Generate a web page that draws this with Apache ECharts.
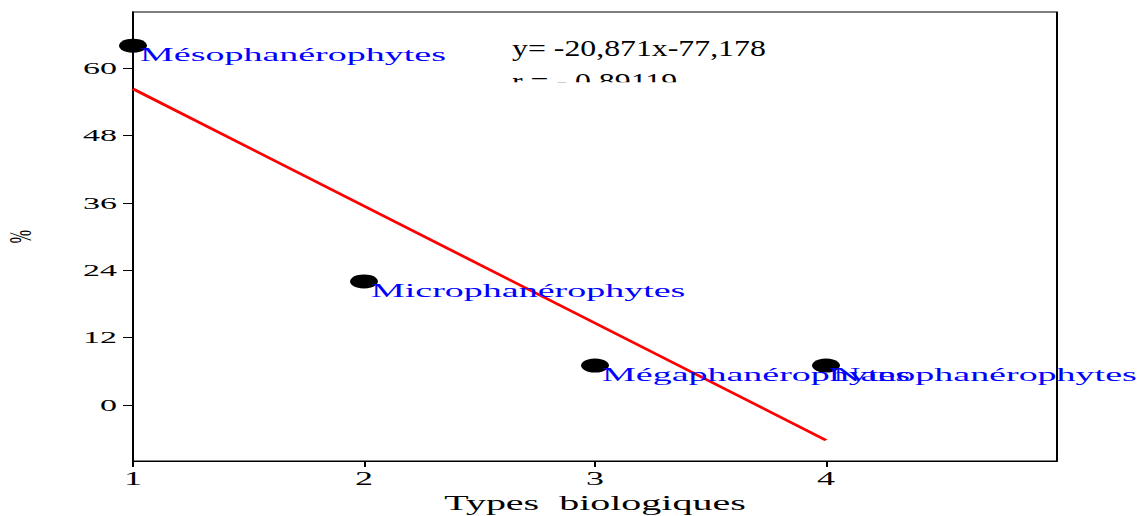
<!DOCTYPE html>
<html>
<head>
<meta charset="utf-8">
<title>Types biologiques</title>
<script src="https://cdn.jsdelivr.net/npm/echarts@6/dist/echarts.min.js"></script>
<style>
  html, body { margin: 0; padding: 0; background: #fff; overflow: hidden; }
  /* the chart is laid out at half width and stretched horizontally */
  #chart { width: 570px; height: 516px; transform: scaleX(2); transform-origin: 0 0; }
</style>
</head>
<body>
<div id="chart"></div>
<script>
// Life-form classes (x position) and their share in %
const typeNames = ['Mésophanérophytes', 'Microphanérophytes', 'Mégaphanérophytes', 'Nanophanérophytes'];
const typeX = [1, 2, 3, 4];
const percents = [64, 22, 7, 7];

// Regression line end points
const fitX = [1, 4];
const fitY = [56.3, -6.3];

// Axis ticks
const xTicks = [1, 2, 3, 4];
const yTicks = [0, 12, 24, 36, 48, 60];

const equationText = 'y= -20,871x-77,178';
const rText = 'r = - 0,89119';

const serif = '"Liberation Serif", "Times New Roman", serif';

const chart = echarts.init(document.getElementById('chart'), null, { renderer: 'svg' });

chart.setOption({
  backgroundColor: '#fff',
  animation: false,
  grid: {
    left: 66.5, right: 41.5, top: 12, bottom: 55,
    outerBoundsMode: 'none', containLabel: false,
    show: true, borderColor: '#000', borderWidth: 1, backgroundColor: 'transparent'
  },
  xAxis: {
    type: 'value', min: 1, max: 5,
    name: 'Types  biologiques', nameLocation: 'middle', nameGap: 28,
    nameTextStyle: { fontFamily: serif, fontSize: 20, color: '#000' },
    axisLine: { onZero: false, lineStyle: { color: '#000', width: 1 } },
    axisTick: { customValues: xTicks, length: 6, lineStyle: { color: '#000', width: 1 } },
    axisLabel: { customValues: xTicks, fontFamily: serif, fontSize: 18, color: '#000', margin: 9 },
    splitLine: { show: false }
  },
  yAxis: {
    type: 'value', min: -10, max: 70,
    name: '%', nameLocation: 'middle', nameRotate: 90, nameGap: 48.5,
    nameTextStyle: { fontFamily: serif, fontSize: 16, color: '#000' },
    axisLine: { onZero: false, lineStyle: { color: '#000', width: 1 } },
    axisTick: { customValues: yTicks, length: 5, lineStyle: { color: '#000', width: 1 } },
    axisLabel: { customValues: yTicks, fontFamily: serif, fontSize: 17, color: '#000', margin: 8 },
    splitLine: { show: false }
  },
  series: [
    {
      type: 'line',
      data: fitX.map((x, i) => [x, fitY[i]]),
      showSymbol: false,
      lineStyle: { color: '#ff0000', width: 2.2 },
      z: 2
    },
    {
      type: 'scatter',
      data: typeX.map((x, i) => ({ value: [x, percents[i]], name: typeNames[i] })),
      symbol: 'circle', symbolSize: 14,
      itemStyle: { color: '#000', opacity: 1 },
      label: {
        show: true, position: 'inside', align: 'left', verticalAlign: 'middle',
        offset: [3.5, 9],
        formatter: p => p.name,
        fontFamily: serif, fontSize: 19, color: '#0000ff', opacity: 1
      },
      emphasis: { disabled: true },
      z: 3
    }
  ],
  graphic: [
    {
      type: 'group', x: 256, y: 0, scaleX: 0.663,
      children: [
        { type: 'text', x: 0, y: 48,
          style: { text: equationText, font: '24px ' + serif, fill: '#000', verticalAlign: 'middle', align: 'left' } },
        { type: 'text', x: 0, y: 81,
          style: { text: rText, font: '24px ' + serif, fill: '#000', verticalAlign: 'middle', align: 'left' } },
        { type: 'rect', shape: { x: -6, y: 82.2, width: 270, height: 20 },
          style: { fill: '#fff' }, z: 10 }
      ]
    }
  ]
});
</script>
</body>
</html>
